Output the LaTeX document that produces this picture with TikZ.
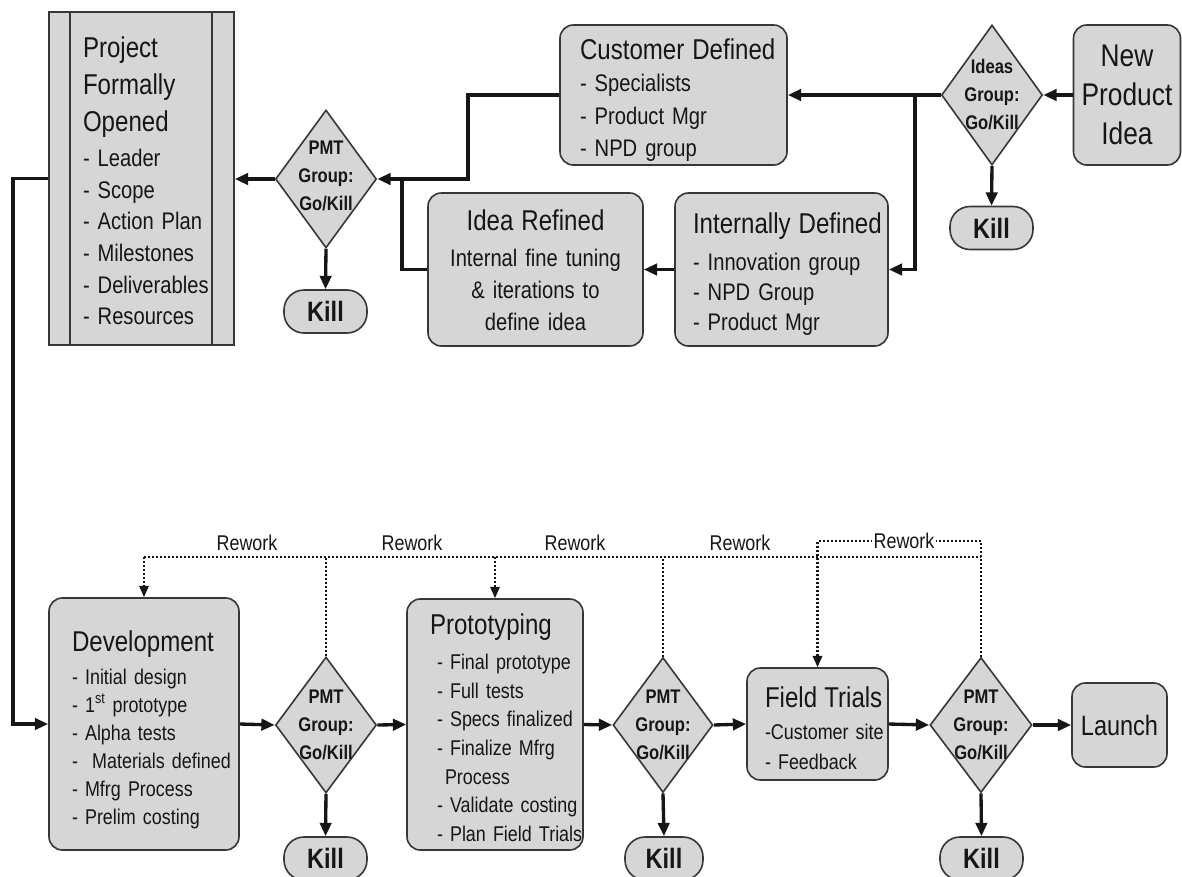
\documentclass[tikz,border=0pt]{standalone}
\usepackage{fontspec}
\setmainfont{Liberation Sans}[FakeStretch=0.84]
\usetikzlibrary{shapes.geometric,arrows.meta,calc}
\newdimen\px \px=0.75pt
\definecolor{boxgray}{RGB}{214,214,214}
\definecolor{edgec}{RGB}{55,55,55}
\definecolor{ink}{RGB}{22,22,22}
\newcommand\ttlfont{\fontsize{21.5}{28}\selectfont}
\newcommand\topstrut[1]{\rule{0pt}{#1}}
\hyphenpenalty=10000
\exhyphenpenalty=10000
\hbadness=10000
\hfuzz=40pt
\begin{document}
\begin{tikzpicture}[x=0.75pt,y=-0.75pt,
  boxbase/.style={draw=edgec, fill=boxgray, line width=1.2pt, text=ink, inner ysep=0pt},
  rbox/.style={boxbase, rounded corners=10pt, align=left},
  sqbox/.style={boxbase, align=left},
  dia/.style={diamond, draw=edgec, fill=boxgray, line width=1.2pt, inner sep=0pt},
  dtext/.style={font=\bfseries\fontsize{14.8}{21}\selectfont, align=center, text=ink, inner sep=0pt},
  killbox/.style={boxbase, rounded corners=15pt, minimum width=83\px, minimum height=43\px, inner sep=0pt, font=\bfseries\fontsize{21}{21}\selectfont},
  conn/.style={draw=ink, line width=2.5pt, -{Triangle[length=10pt,width=8.5pt]}},
  plain/.style={draw=ink, line width=2.5pt},
  rework/.style={draw=ink, line width=1.6pt, dash pattern=on 1.5pt off 1.5pt},
  rwtip/.style={-{Triangle[length=8.5pt,width=7pt]}},
  rwlabel/.style={font=\fontsize{16}{16}\selectfont, text=ink, inner sep=1pt}
]
\fill[white] (0,0) rectangle (1182,876);
\useasboundingbox (0,0) rectangle (1182,876);

% ---------- top row ----------
\node[sqbox, minimum width=185\px, minimum height=333\px, text width=117\px, inner xsep=34\px,
  font=\fontsize{18}{23.7}\selectfont] (proj) at (141.5,178.5)
  {{\ttlfont\topstrut{18.7pt}Project\\Formally\\Opened\par}\vspace{2.5pt}%
   -~Leader\\-~Scope\\-~Action~Plan\\-~Milestones\\-~Deliverables\\-~Resources};
\draw[edgec, line width=1.2pt] ($(proj.north west)+(22,0)$) -- ($(proj.south west)+(22,0)$);
\draw[edgec, line width=1.2pt] ($(proj.north east)+(-23,0)$) -- ($(proj.south east)+(-23,0)$);

\node[rbox, minimum width=227\px, minimum height=140\px, text width=187\px, inner xsep=20\px,
  font=\fontsize{18}{24.4}\selectfont] (cust) at (673.5,95)
  {{\ttlfont\topstrut{23.2pt}Customer~Defined\par}%
   -~Specialists\\-~Product~Mgr\\-~NPD~group};

\node[rbox, minimum width=213\px, minimum height=153\px, text width=177\px, inner xsep=18\px,
  font=\fontsize{18}{22.5}\selectfont] (intD) at (781.5,269.5)
  {{\ttlfont\topstrut{22.5pt}Internally~Defined\par}\vspace{5pt}%
   -~Innovation~group\\-~NPD~Group\\-~Product~Mgr};

\node[rbox, align=center, minimum width=215\px, minimum height=153\px, text width=191\px, inner xsep=12\px,
  font=\fontsize{18}{24}\selectfont] (refD) at (535.5,269.5)
  {{\ttlfont\topstrut{17pt}Idea~Refined\par}\vspace{3pt}%
   Internal~fine~tuning\\\&~iterations~to\\define~idea};

\node[rbox, align=center, minimum width=107\px, minimum height=140\px, text width=91\px, inner xsep=8\px,
  font=\fontsize{23.5}{29.5}\selectfont] (npi) at (1127,95) {New\\Product\\Idea};

\node[dia, minimum width=101\px, minimum height=140\px] (ideaD) at (992,95) {};
\node[dtext] (ideaDt) at (ideaD) {Ideas\\Group:\\Go/Kill};
\node[killbox] (k0) at (991.5,228) {Kill};

\node[dia, minimum width=101\px, minimum height=138\px] (d1) at (326,179) {};
\node[dtext] (d1t) at (326,176) {PMT\\Group:\\Go/Kill};
\node[killbox] (k1) at (325.5,311.5) {Kill};

% ---------- bottom row ----------
\node[rbox, minimum width=190\px, minimum height=252\px, text width=144\px, inner xsep=23\px,
  font=\fontsize{16}{21}\selectfont] (dev) at (144,724)
  {{\ttlfont\topstrut{24pt}Development\par}\vspace{3.75pt}%
   -~Initial~design\\-~1\textsuperscript{st}~prototype\\-~Alpha~tests\\-~~Materials~defined\\-~Mfrg~Process\\-~Prelim~costing};

\node[dia, minimum width=101\px, minimum height=136\px] (d2) at (326,725) {};
\node[dtext] (d2t) at (d2) {PMT\\Group:\\Go/Kill};
\node[killbox] (k2) at (325.5,858.5) {Kill};

\node[rbox, minimum width=176\px, minimum height=251\px, text width=116\px, inner xsep=30\px,
  font=\fontsize{16}{21.4}\selectfont] (proto) at (495,724.5)
  {{\ttlfont\hspace*{-7\px}\topstrut{20.2pt}Prototyping\par}\vspace{5pt}%
   -~Final~prototype\\-~Full~tests\\-~Specs~finalized\\-~Finalize~Mfrg\\\hspace*{8\px}Process\\-~Validate~costing\\-~Plan~Field~Trials};

\node[dia, minimum width=100\px, minimum height=135\px] (d3) at (663,725) {};
\node[dtext] (d3t) at (d3) {PMT\\Group:\\Go/Kill};
\node[killbox, minimum width=78\px] (k3) at (664,858.5) {Kill};

\node[rbox, minimum width=141\px, minimum height=112\px, text width=105\px, inner xsep=18\px,
  font=\fontsize{16}{22.5}\selectfont] (ft) at (817.5,724)
  {{\ttlfont\topstrut{21.7pt}Field~Trials\par}\vspace{1.5pt}%
   -Customer~site\\-~Feedback};

\node[dia, minimum width=102\px, minimum height=135\px] (d4) at (981,725) {};
\node[dtext] (d4t) at (d4) {PMT\\Group:\\Go/Kill};
\node[killbox] (k4) at (981.5,858.5) {Kill};

\node[rbox, align=center, minimum width=95\px, minimum height=84\px, inner xsep=0pt,
  font=\fontsize{21}{21}\selectfont] (launch) at (1119.5,725) {Launch};

% ---------- connectors, top ----------
\coordinate (jr) at (915,95);
\coordinate (jc) at (468,179);
\coordinate (jl) at (402,179);
\coordinate (lc) at (13,0);
\draw[conn] (npi.west) -- (ideaD.east);
\draw[conn] (ideaD.west) -- (cust.east);
\draw[conn] (jr) |- (intD.east);
\draw[conn] (intD.west) -- (refD.east);
\draw[conn] (cust.west) -| (jc) -- (d1.east);
\draw[plain] (refD.west) -| (jl);
\draw[conn] (d1.west) -- (d1.west -| proj.east);
\draw[conn] (ideaD.south) -- (k0.north);
\draw[conn] (d1.south) -- (k1.north);
\draw[conn] (proj.west) -- (proj.west -| lc) |- (dev.west);

% ---------- connectors, bottom ----------
\draw[conn] (dev.east) -- (d2.west);
\draw[conn] (d2.east) -- (proto.west);
\draw[conn] (proto.east) -- (d3.west);
\draw[conn] (d3.east) -- (ft.west);
\draw[conn] (ft.east) -- (d4.west);
\draw[conn] (d4.east) -- (launch.west);
\draw[conn] (d2.south) -- (k2.north);
\draw[conn] (d3.south) -- (k3.north);
\draw[conn] (d4.south) -- (k4.north);

% ---------- rework ----------
\coordinate (rwL) at (0,557);
\coordinate (rwU) at (0,541);
\draw[rework] (dev.north |- rwL) -- (d4.north |- rwL);
\draw[rework, rwtip] (dev.north |- rwL) -- (dev.north);
\draw[rework] (d2.north) -- (d2.north |- rwL);
\draw[rework, rwtip] (proto.north |- rwL) -- (proto.north);
\draw[rework] (d3.north) -- (d3.north |- rwL);
\draw[rework] (d4.north) -- (d4.north |- rwU);
\draw[rework, rwtip] (d4.north |- rwU) -| (ft.north);

\node[rwlabel] (rw1) at (247,543) {Rework};
\node[rwlabel] (rw2) at (412,543) {Rework};
\node[rwlabel] (rw3) at (575,543) {Rework};
\node[rwlabel] (rw4) at (740,543) {Rework};
\node[rwlabel, fill=white] (rw5) at (904,541) {Rework};
\end{tikzpicture}
\end{document}
